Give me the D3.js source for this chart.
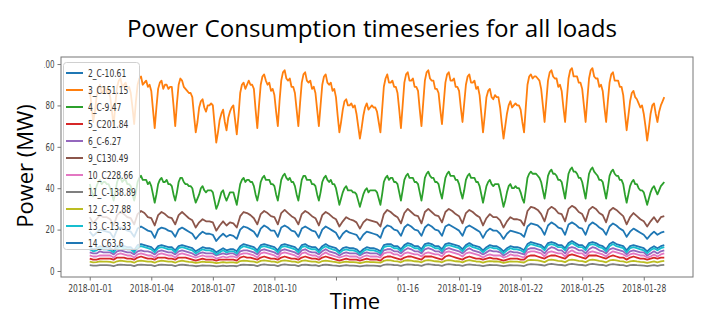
<!DOCTYPE html>
<html>
<head>
<meta charset="utf-8">
<script src="https://cdn.jsdelivr.net/npm/d3@7"></script>
<style>
  body { margin: 0; background: #fff; }
  svg { display: block; }
</style>
</head>
<body>
<svg id="chart" width="709" height="332"></svg>
<script>
// readings from 2018-01-01 00:00 to 2018-01-29 00:00 (4-hourly, the two big loads 2-hourly)
var startDate = new Date(2018, 0, 1);
var spanHours = 28 * 24;

var loadNames = ["2_C-10.61", "3_C151.15", "4_C-9.47", "5_C201.84", "6_C-6.27", "9_C130.49",
                 "10_C228.66", "11_C-138.89", "12_C-27.88", "13_C-13.33", "14_C63.6"];
var loadColors = ["#1f77b4", "#ff7f0e", "#2ca02c", "#d62728", "#9467bd", "#8c564b",
                  "#e377c2", "#7f7f7f", "#bcbd22", "#17becf", "#1f77b4"];

var load2 = [
  11.5,10.5,11,12,11.5,11.5, 11,10,12,12.5,12,11.5, 11.5,10,12.5,13,12.5,12, 11.5,10,12,12.5,12,11.5, 11.5,10,12,12.5,12,11.5, 11,9.5,10.5,11.5,11,11, 10.5,9,10,11,10,10.5,
  10.5,9.5,12,13,12.5,12, 11.5,10,12.5,13,12.5,12, 11.5,10,12.5,13,12.5,12, 11.5,10,12.5,13,12,11.5, 11.5,10,12,13,12,11.5, 11,9.5,11,11.5,11,11, 10.5,9,10.5,11.5,11,11,
  10.5,9.5,12.5,13,13,12, 12,10.5,12.5,13.5,13,12, 12,10.5,13,13.5,13,12, 12,10.5,13,13.5,13,12.5, 12,10.5,12.5,13.5,12.5,12, 11.5,10,11.5,12.5,12,12, 11,9.5,11,12,11.5,11.5,
  11,10,13,14,13.5,13, 12.5,11,13.5,14,13.5,12.5, 12.5,11,13.5,14.5,13.5,12.5, 12.5,11,13.5,14,13.5,12.5, 12,10.5,13,14,13,12.5, 12,10,12,12.5,12,11.5, 11,9.5,11,12,11,12,
  12.5
];
var load3 = [
  88,80,72,77,84,88,90,86,87,89,86,87, 84,77,70,81,89,92,93,89,90,91,88,89, 86,79,71,82,90,93,94,90,91,92,89,90,
  87,78,69,79,88,91,92,88,90,90,88,89, 89,80,70,81,90,93,92,89,88,87,86,86, 84,75,67,72,79,82,83,79,77,80,80,81,
  80,71,62,67,73,76,78,72,68,74,77,79,
  80,73,66,75,86,90,91,88,90,92,90,90, 88,78,69,80,90,94,95,92,90,91,87,88, 85,77,70,82,92,96,97,93,92,93,89,89,
  86,78,70,81,91,95,96,92,91,92,88,89, 86,78,70,80,90,94,95,91,90,91,87,88, 84,75,67,72,78,82,83,80,80,81,79,80,
  76,70,64,69,75,79,81,78,79,80,79,79,
  77,72,67,78,89,93,95,91,91,92,89,89, 86,78,69,80,91,95,96,92,92,93,89,89, 87,78,70,81,92,96,97,93,92,92,88,88,
  86,78,71,81,91,95,96,92,92,93,89,89, 87,79,72,81,90,94,95,91,91,92,88,89, 85,76,67,75,84,87,88,84,83,85,84,84,
  79,71,64,70,76,80,82,79,80,81,80,80,
  78,72,67,79,90,94,95,93,94,94,93,92, 88,80,72,82,92,96,97,94,93,93,89,90, 87,79,72,83,93,97,98,94,94,94,91,91,
  88,80,72,83,93,97,98,94,93,93,89,90, 87,79,72,82,91,95,96,92,92,92,89,89, 85,76,68,75,82,86,87,84,83,81,79,80,
  76,70,63,69,76,80,81,76,72,77,80,82,
  84
];
var load4 = [
  42,39,36,38,41,43,44,42,43,43,42,42, 40,37,34,38,43,45,45,43,44,44,42,42, 41,37,34,38,43,45,46,44,44,44,42,43,
  41,37,33,37,42,44,45,43,43,44,42,42, 41,37,34,38,43,45,45,43,42,42,41,41, 40,36,33,35,37,40,41,39,38,39,39,39,
  38,34,30,32,35,38,39,36,34,36,38,38,
  38,35,32,37,42,44,45,43,44,44,43,43, 41,37,34,38,43,45,46,44,44,44,42,42, 41,37,34,39,44,46,47,45,44,45,43,43,
  41,37,34,39,44,46,46,44,44,44,42,42, 41,37,34,38,43,45,46,44,43,44,42,42, 40,36,32,35,38,40,41,39,39,39,38,38,
  37,34,31,34,37,39,40,38,39,39,39,39,
  38,35,32,37,43,45,46,44,45,45,43,43, 42,38,34,39,44,46,47,45,45,45,43,43, 42,38,34,39,45,47,48,46,45,45,43,43,
  42,38,35,40,45,47,48,46,46,46,44,44, 42,38,35,39,44,46,47,45,45,45,43,43, 41,37,33,37,41,43,44,42,41,42,42,42,
  39,35,31,34,38,41,42,40,40,41,40,40,
  38,35,33,39,45,47,48,47,47,47,46,45, 43,39,35,40,46,48,49,47,47,46,44,44, 43,39,35,41,47,49,50,48,48,47,45,45,
  43,39,35,41,47,49,50,48,47,46,44,44, 43,39,35,40,46,48,49,47,46,46,44,44, 42,37,33,37,41,43,44,42,42,40,39,39,
  38,35,32,35,38,40,41,39,37,39,41,42,
  43
];
var load5 = [
  6,5.5,5.5,6,6,6, 6,5.5,6.5,6.5,6.5,6, 6,5.5,6.5,7,6.5,6, 6,5.5,6.5,6.5,6.5,6, 6,5.5,6.5,6.5,6.5,6, 5.5,5,5.5,6,5.5,5.5, 5.5,5,5.5,5.5,5.5,5.5,
  5.5,5,6.5,7,6.5,6.5, 6,5.5,6.5,7,6.5,6, 6,5.5,6.5,7,6.5,6, 6,5.5,6.5,7,6.5,6, 6,5.5,6.5,7,6.5,6, 5.5,5,5.5,6,5.5,5.5, 5.5,5,5.5,6,5.5,5.5,
  5.5,5,6.5,7,7,6.5, 6,5.5,6.5,7,7,6.5, 6,5.5,7,7,7,6.5, 6,5.5,7,7.5,7,6.5, 6,5.5,6.5,7,6.5,6, 6,5.5,6,6.5,6,6, 5.5,5,5.5,6,6,6,
  5.5,5.5,7,7.5,7.5,7, 6.5,6,7,7.5,7.5,7, 6.5,6,7.5,8,7.5,7, 6.5,6,7.5,7.5,7.5,7, 6.5,6,7,7.5,7,6.5, 6.5,5.5,6.5,7,6.5,6, 6,5.5,6,6.5,6,6.5,
  6.5
];
var load6 = [
  9,8.5,8.5,9.5,9,9, 9,8,9.5,10,9.5,9, 9,8,9.5,10,9.5,9.5, 9,8,9.5,10,9.5,9, 9,8,9.5,10,9.5,9, 8.5,7.5,8.5,9,8.5,8.5, 8.5,7.5,8,8.5,8,8.5,
  8.5,7.5,9.5,10,10,9.5, 9,8,10,10.5,10,9.5, 9,8,10,10.5,10,9.5, 9,8,10,10.5,9.5,9, 9,8,9.5,10.5,9.5,9, 8.5,7.5,8.5,9,8.5,8.5, 8.5,7.5,8.5,9,8.5,8.5,
  8.5,7.5,10,10.5,10.5,9.5, 9.5,8.5,10,11,10.5,9.5, 9.5,8.5,10.5,11,10.5,9.5, 9.5,8.5,10.5,11,10.5,10, 9.5,8.5,10,11,10,9.5, 9,8,9,10,9.5,9.5, 9,7.5,8.5,9.5,9,9,
  8.5,8,10.5,11,11,10.5, 10,8.5,10.5,11.5,11,10, 10,8.5,11,11.5,11,10, 10,8.5,10.5,11.5,11,10, 9.5,8.5,10.5,11,10.5,10, 9.5,8,9.5,10,9.5,9, 9,7.5,8.5,9.5,8.5,9.5,
  10
];
var load9 = [
  26,23,25,27,26,26, 25,22,27,28.5,27.5,26, 25.5,22.5,27.5,29,28,26, 25.5,22,27,28.5,27.5,26, 25.5,22.5,27,28.5,27,25.5, 24.5,21,23.5,25,24,24, 23.5,19.5,22,24,22,23.5,
  23,21,26.5,28.5,28,27, 25.5,22.5,27.5,29,28,26.5, 26,22.5,28,29.5,28,26.5, 25.5,22.5,27.5,29,28,26.5, 25.5,22,27,28.5,27.5,26, 25,21.5,24,26,25,24.5, 23.5,20.5,23.5,25,24.5,24,
  23.5,21.5,27.5,29.5,28.5,27, 26,23,28,30,28.5,27, 26.5,23,28.5,30,28.5,27, 26.5,23.5,28.5,30,29,27.5, 26.5,23,28,29.5,28.5,27, 26,22,25.5,27.5,26,26, 24.5,21,24,26,25,25,
  24.5,22,29,31,30.5,29.5, 27.5,24,29.5,31,30,28, 27.5,24,30,31.5,30.5,28.5, 27.5,24,29.5,31,30,28, 27,23.5,29,30.5,29.5,28, 26.5,22.5,26,28,26.5,25, 24,21.5,24,26,23.5,26,
  26.5
];
var load10 = [
  7.5,7,7,7.5,7.5,7.5, 7.5,6.5,8,8.5,8,7.5, 7.5,6.5,8,8.5,8,7.5, 7.5,6.5,8,8.5,8,7.5, 7.5,6.5,8,8.5,8,7.5, 7,6.5,7,7.5,7,7, 7,6,6.5,7,6.5,7,
  7,6.5,8,8.5,8.5,8, 7.5,6.5,8.5,9,8.5,8, 7.5,6.5,8.5,9,8.5,8, 7.5,6.5,8.5,9,8,7.5, 7.5,6.5,8,9,8,7.5, 7,6.5,7,7.5,7,7, 7,6,7,7.5,7,7,
  7,6.5,8.5,9,9,8, 8,7,8.5,9,8.5,8, 8,7,8.5,9,8.5,8, 8,7,9,9.5,9,8.5, 8,7,8.5,9,8.5,8, 7.5,6.5,7.5,8,7.5,7.5, 7.5,6.5,7,8,7.5,7.5,
  7,6.5,9,9.5,9.5,9, 8.5,7,9,9.5,9,8.5, 8.5,7,9,10,9,8.5, 8.5,7,9,9.5,9,8.5, 8,7,8.5,9.5,9,8.5, 8,7,8,8.5,8,7.5, 7.5,6.5,7,8,7,8,
  8.5
];
var load11 = [
  2.8,2.6,2.6,2.8,2.8,2.8, 2.7,2.4,2.9,3.1,3,2.8, 2.8,2.4,3,3.1,3,2.8, 2.8,2.4,2.9,3.1,3,2.8, 2.8,2.4,2.9,3.1,2.9,2.7, 2.6,2.3,2.5,2.7,2.6,2.6, 2.5,2.2,2.4,2.6,2.4,2.5,
  2.5,2.3,2.9,3.1,3,2.9, 2.8,2.4,3,3.2,3,2.8, 2.8,2.4,3,3.2,3,2.8, 2.8,2.4,3,3.1,2.9,2.7, 2.8,2.4,2.9,3.1,2.9,2.7, 2.6,2.3,2.6,2.8,2.6,2.6, 2.5,2.2,2.5,2.7,2.6,2.6,
  2.5,2.3,3,3.2,3.1,2.9, 2.8,2.5,3,3.2,3.1,2.9, 2.8,2.5,3.1,3.3,3.1,2.9, 2.8,2.5,3.1,3.3,3.1,2.9, 2.8,2.5,3,3.2,3,2.8, 2.7,2.4,2.7,2.9,2.8,2.8, 2.6,2.3,2.6,2.8,2.7,2.7,
  2.6,2.4,3.1,3.3,3.2,3.1, 2.9,2.6,3.2,3.4,3.2,3, 2.9,2.6,3.2,3.4,3.2,3, 2.9,2.6,3.2,3.4,3.2,3, 2.9,2.5,3.1,3.3,3.1,2.9, 2.8,2.4,2.8,3,2.8,2.7, 2.6,2.3,2.6,2.8,2.5,2.8,
  3
];
var load12 = [
  4.5,4.2,4.3,4.6,4.5,4.5, 4.4,4,4.7,5,4.8,4.5, 4.5,4,4.8,5,4.8,4.5, 4.5,4,4.7,5,4.8,4.5, 4.5,4,4.7,5,4.7,4.4, 4.3,3.9,4.2,4.5,4.3,4.3, 4.2,3.8,4,4.3,4,4.2,
  4.2,3.9,4.8,5,4.9,4.7, 4.5,4.1,4.9,5.1,4.9,4.6, 4.5,4.1,4.9,5.1,4.9,4.6, 4.5,4.1,4.9,5.1,4.8,4.5, 4.5,4,4.8,5,4.8,4.5, 4.3,3.9,4.3,4.5,4.3,4.3, 4.2,3.8,4.2,4.5,4.3,4.3,
  4.2,4,4.9,5.2,5.1,4.8, 4.6,4.2,5,5.2,5,4.7, 4.6,4.2,5,5.3,5,4.7, 4.6,4.2,5,5.3,5,4.7, 4.6,4.2,4.9,5.2,4.9,4.6, 4.5,4,4.5,4.8,4.6,4.6, 4.4,3.9,4.3,4.6,4.5,4.5,
  4.3,4.1,5.1,5.4,5.3,5.1, 4.8,4.3,5.2,5.5,5.2,4.9, 4.8,4.3,5.2,5.5,5.2,4.9, 4.8,4.3,5.2,5.5,5.2,4.9, 4.7,4.2,5.1,5.4,5.1,4.8, 4.6,4.1,4.6,4.9,4.6,4.4, 4.3,3.9,4.3,4.6,4.2,4.6,
  4.9
];
var load13 = [
  10.5,9.5,10,11,10.5,10.5, 10,9,11,11.5,11,10.5, 10.5,9,11.5,12,11.5,11, 10.5,9,11,11.5,11,10.5, 10.5,9,11,11.5,11,10.5, 10,8.5,9.5,10.5,10,10, 9.5,8,9,10,9,9.5,
  9.5,8.5,11,12,11.5,11, 10.5,9,11.5,12,11.5,11, 10.5,9,11.5,12,11.5,11, 10.5,9,11.5,12,11,10.5, 10.5,9,11,12,11,10.5, 10,8.5,10,10.5,10,10, 9.5,8,9.5,10.5,10,10,
  9.5,8.5,11.5,12,12,11, 11,9.5,11.5,12.5,12,11, 11,9.5,12,12.5,12,11, 11,9.5,12,12.5,12,11.5, 11,9.5,11.5,12.5,11.5,11, 10.5,9,10.5,11.5,11,11, 10,8.5,10,11,10.5,10.5,
  10,9,12,13,12.5,12, 11.5,10,12.5,13,12.5,11.5, 11.5,10,12.5,13.5,12.5,11.5, 11.5,10,12.5,13,12.5,11.5, 11,9.5,12,13,12,11.5, 11,9,11,11.5,11,10.5, 10,8.5,10,11,10,11,
  11.5
];
var load14 = [
  19,17,18.5,20,19.5,19, 18.5,16,20,21,20.5,19.5, 19,16.5,20.5,21.5,20.5,19.5, 19,16,20,21,20.5,19.5, 19,16.5,20,21,20,19, 18,15.5,17.5,19,18,18, 17.5,14.5,16.5,18,16.5,17.5,
  17,15.5,20,21.5,21,20, 19,16.5,20.5,22,21,19.5, 19.5,16.5,21,22,21,19.5, 19,16.5,20.5,21.5,20.5,19.5, 19,16,20,21.5,20.5,19.5, 18.5,15.5,18,19.5,18.5,18, 17.5,15,17.5,19,18.5,18,
  17.5,16,20.5,22,21.5,20, 19.5,17,21,22.5,21.5,20, 19.5,17,21,22.5,21.5,20, 19.5,17,21.5,22.5,21.5,20.5, 19.5,17,21,22,21,20, 19,16,19,20.5,19.5,19.5, 18,15.5,18,19.5,19,18.5,
  18,16.5,21.5,23,22.5,22, 20.5,17.5,22,23.5,22.5,21, 20.5,17.5,22.5,23.5,22.5,21, 20.5,17.5,22,23.5,22.5,21, 20,17.5,21.5,23,22,20.5, 19.5,16.5,19,20.5,19.5,18.5, 17.5,15.5,17.5,19,17.5,18.5,
  19
];

var loadValues = [load2, load3, load4, load5, load6, load9, load10, load11, load12, load13, load14];

var yTicks = [0, 20, 40, 60, 80, 100];
var xTickDays = [0, 3, 6, 9, 12, 15, 18, 21, 24, 27];

var svg = d3.select("#chart");
svg.append("rect").attr("width", 709).attr("height", 332).attr("fill", "#fff");

var plotLeft = 61, plotRight = 693, plotTop = 57, plotBottom = 277;

var dayMs = 864e5;
var x = d3.scaleTime()
    .domain([new Date(+startDate - 1.4 * dayMs), new Date(+startDate + 29.4 * dayMs)])
    .range([plotLeft, plotRight]);
var y = d3.scaleLinear().domain([-2.9, 103.4]).range([plotBottom, plotTop]);

// squash text horizontally like the reference picture
function squash(sel, k) {
  sel.each(function() {
    var w = this.getComputedTextLength();
    if (w > 0) d3.select(this).attr("textLength", w * k).attr("lengthAdjust", "spacingAndGlyphs");
  });
}

var series = loadNames.map(function(name, i) {
  var vals = loadValues[i];
  var step = spanHours / (vals.length - 1);
  return {
    name: name,
    color: loadColors[i],
    points: vals.map(function(v, j) {
      return { t: d3.timeHour.offset(startDate, j * step), v: v };
    })
  };
});

var line = d3.line().x(function(d) { return x(d.t); }).y(function(d) { return y(d.v); });

svg.append("g").selectAll("path")
    .data(series)
    .enter().append("path")
    .attr("d", function(d) { return line(d.points); })
    .attr("fill", "none")
    .attr("stroke", function(d) { return d.color; })
    .attr("stroke-width", 1.8)
    .attr("stroke-linejoin", "round");

// frame
svg.append("rect")
    .attr("x", plotLeft).attr("y", plotTop)
    .attr("width", plotRight - plotLeft).attr("height", plotBottom - plotTop)
    .attr("fill", "none").attr("stroke", "#777").attr("stroke-width", 1);

// 01-13 label and the front of 01-16 sit under the pasted "Time" box
var fmtDay = d3.timeFormat("%Y-%m-%d");
function xTickLabel(d) {
  var s = fmtDay(d);
  if (s === "2018-01-13") return "";
  if (s === "2018-01-16") return "01-16";
  return s;
}

var xAxis = svg.append("g")
    .attr("transform", "translate(0," + plotBottom + ")")
    .call(d3.axisBottom(x)
        .tickValues(xTickDays.map(function(d) { return d3.timeDay.offset(startDate, d); }))
        .tickFormat(xTickLabel).tickSize(3.5).tickPadding(4));
xAxis.select(".domain").remove();
xAxis.selectAll("line").attr("stroke", "#777");
xAxis.selectAll("text").attr("fill", "#444").style("font-family", "DejaVu Sans").style("font-size", "10.5px");
xAxis.selectAll("text").filter(function(d) { return fmtDay(d) === "2018-01-16"; })
    .attr("text-anchor", "start").attr("x", -1);
squash(xAxis.selectAll("text"), 0.72);

var yAxis = svg.append("g")
    .attr("transform", "translate(" + plotLeft + ",0)")
    .call(d3.axisLeft(y).tickValues(yTicks).tickSize(3.5).tickPadding(3));
yAxis.select(".domain").remove();
yAxis.selectAll("line").attr("stroke", "#777");
yAxis.selectAll("text").attr("fill", "#444").style("font-family", "DejaVu Sans").style("font-size", "10.5px");
squash(yAxis.selectAll("text"), 0.68);

// legend
var legend = svg.append("g");
legend.append("rect")
    .attr("x", 63.5).attr("y", 62.5).attr("width", 76).attr("height", 187)
    .attr("rx", 3).attr("fill", "#fff").attr("fill-opacity", 0.8)
    .attr("stroke", "#d0d0d0");
var rows = legend.selectAll("g.row")
    .data(series)
    .enter().append("g")
    .attr("class", "row")
    .attr("transform", function(d, i) { return "translate(0," + (73 + i * 17) + ")"; });
rows.append("line")
    .attr("x1", 66).attr("x2", 83)
    .attr("stroke", function(d) { return d.color; })
    .attr("stroke-width", 2);
var legendText = rows.append("text")
    .attr("x", 88).attr("dy", "0.35em")
    .attr("fill", "#333")
    .style("font-family", "DejaVu Sans").style("font-size", "10.5px")
    .text(function(d) { return d.name; });
squash(legendText, 0.72);

// pasted-on labels with white boxes
svg.append("rect").attr("x", 0).attr("y", 58).attr("width", 44.5).attr("height", 190).attr("fill", "#fff");
svg.append("text")
    .attr("transform", "translate(33,166) rotate(-90)")
    .attr("text-anchor", "middle")
    .style("font-family", "Open Sans").style("font-size", "22px")
    .attr("fill", "#000")
    .text("Power (MW)");

svg.append("rect").attr("x", 314).attr("y", 281).attr("width", 82).attr("height", 51).attr("fill", "#fff");
svg.append("text")
    .attr("x", 355).attr("y", 309)
    .attr("text-anchor", "middle")
    .style("font-family", "Open Sans").style("font-size", "22px")
    .attr("fill", "#000")
    .text("Time");

svg.append("text")
    .attr("x", 372).attr("y", 37)
    .attr("text-anchor", "middle")
    .style("font-family", "Open Sans").style("font-size", "23px")
    .attr("fill", "#000")
    .attr("textLength", 490).attr("lengthAdjust", "spacingAndGlyphs")
    .text("Power Consumption timeseries for all loads");
</script>
</body>
</html>
